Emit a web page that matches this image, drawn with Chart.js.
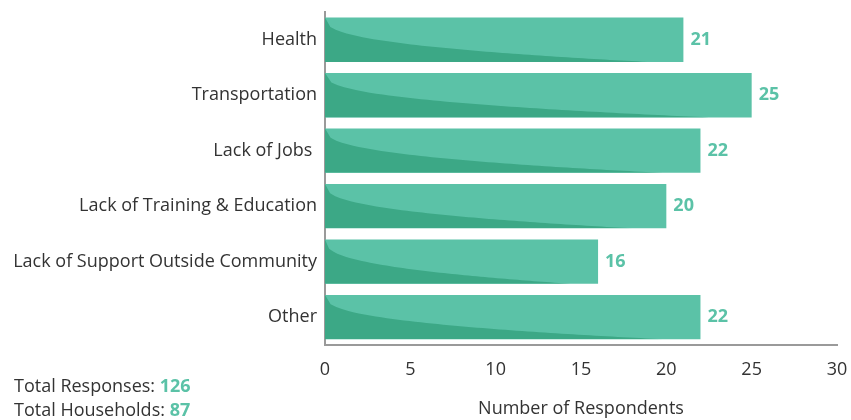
<!DOCTYPE html>
<html>
<head>
<meta charset="utf-8">
<script src="https://cdn.jsdelivr.net/npm/chart.js@4"></script>
<style>
  html, body { margin: 0; padding: 0; background: #fff; }
  #wrap { position: relative; width: 851px; height: 420px; }
  .totals { position: absolute; left: 14px; font: 18px "Open Sans", Arial, sans-serif; color: #333; line-height: 20px; }
  .totals b { color: #5bc2a7; }
</style>
</head>
<body>
<div id="wrap">
  <canvas id="chart" width="851" height="420"></canvas>
  <div class="totals" style="top:375px">Total Responses: <b>126</b></div>
  <div class="totals" style="top:399px">Total Households: <b>87</b></div>
</div>
<script>
// Data
const categories = ['Health', 'Transportation', 'Lack of Jobs ', 'Lack of Training & Education', 'Lack of Support Outside Community', 'Other'];
const respondents = [21, 25, 22, 20, 16, 22];
const xTicks = [0, 5, 10, 15, 20, 25, 30];

const lightGreen = '#5bc2a7';
const darkGreen = '#3ca886';
const fontFamily = '"Open Sans", Arial, sans-serif';

// Darker swoosh in each bar + value labels
const barDecor = {
    id: 'barDecor',
    afterDatasetsDraw(chart) {
        const ctx = chart.ctx;
        const meta = chart.getDatasetMeta(0);
        meta.data.forEach((bar, i) => {
            const x0 = bar.base, x1 = bar.x;
            const top = bar.y - bar.height / 2, bottom = bar.y + bar.height / 2;
            const w = x1 - x0, h = bottom - top;
            ctx.save();
            ctx.beginPath();
            ctx.rect(x0, top, w, h);
            ctx.clip();
            ctx.beginPath();
            ctx.moveTo(x0, top);
            for (let k = 1; k <= 60; k++) {
                const v = k / 60;
                ctx.lineTo(x0 + v * 0.9 * w, top + Math.pow(v, 0.38) * h);
            }
            ctx.lineTo(x0, bottom);
            ctx.closePath();
            ctx.fillStyle = darkGreen;
            ctx.fill();
            ctx.restore();

            ctx.save();
            ctx.font = 'bold 18px ' + fontFamily;
            ctx.fillStyle = lightGreen;
            ctx.textAlign = 'left';
            ctx.textBaseline = 'middle';
            ctx.fillText(respondents[i], x1 + 7, bar.y);
            ctx.restore();
        });
    }
};

const ctx = document.getElementById('chart').getContext('2d');
new Chart(ctx, {
    type: 'bar',
    data: {
        labels: categories,
        datasets: [{
            data: respondents,
            backgroundColor: lightGreen,
            borderWidth: 0,
            categoryPercentage: 0.8,
            barPercentage: 1
        }]
    },
    options: {
        indexAxis: 'y',
        responsive: false,
        animation: false,
        layout: { padding: { top: 12, right: 14, bottom: 0, left: 0 } },
        plugins: {
            legend: { display: false },
            tooltip: { enabled: false }
        },
        scales: {
            x: {
                min: 0,
                max: 30,
                afterBuildTicks: scale => { scale.ticks = xTicks.map(v => ({ value: v })); },
                afterFit: scale => { scale.paddingRight = 0; scale.paddingLeft = 0; },
                grid: { display: false, drawTicks: false },
                border: { color: '#9a9a9a', width: 2 },
                ticks: { color: '#333', font: { family: fontFamily, size: 18 }, padding: 14 },
                title: {
                    display: true,
                    text: 'Number of Respondents',
                    color: '#333',
                    font: { family: fontFamily, size: 18 },
                    padding: { top: 4, bottom: 0 }
                }
            },
            y: {
                grid: { display: false, drawTicks: false },
                border: { color: '#9a9a9a', width: 2 },
                ticks: { color: '#333', font: { family: fontFamily, size: 18 }, padding: 8 },
                afterFit: scale => { scale.width = 325; scale.paddingTop = 0; scale.paddingBottom = 0; }
            }
        }
    },
    plugins: [barDecor]
});
</script>
</body>
</html>
